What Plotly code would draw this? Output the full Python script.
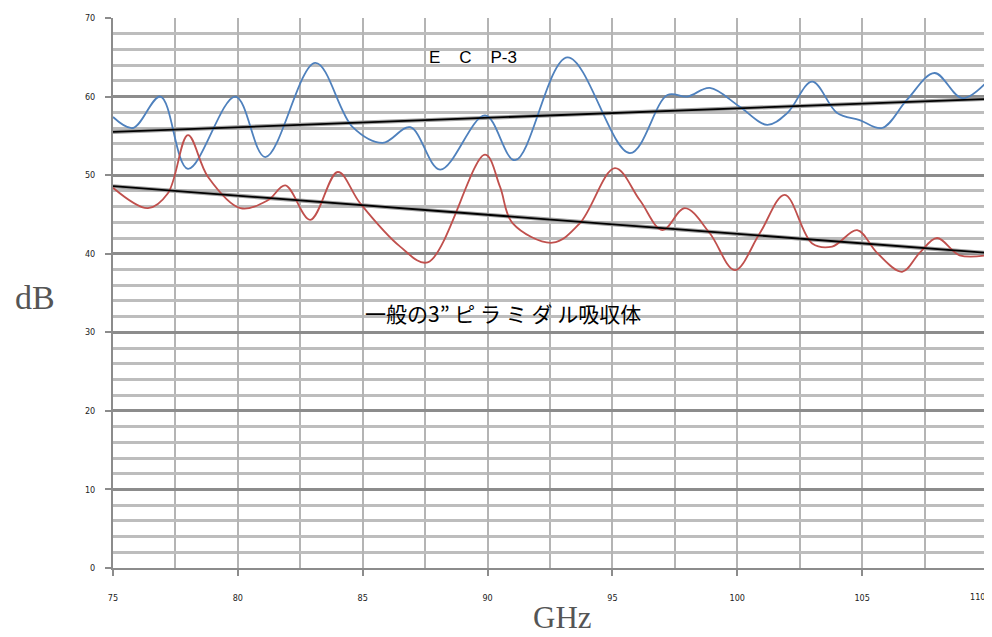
import plotly.graph_objects as go

# ECP-3 (blue) measured curve
ecp_freq = [75.0, 75.8, 76.9, 78.0, 79.9, 81.1, 83.1, 84.6, 85.8, 86.9, 88.1, 89.9, 91.1,
            93.2, 95.7, 97.2, 98.0, 98.9, 100.1, 101.2, 102.0, 103.0, 104.0, 104.9,
            105.8, 106.8, 107.9, 109.0, 110.0]
ecp_db = [57.4, 56.0, 60.0, 50.8, 60.0, 52.3, 64.3, 56.1, 54.1, 56.1, 50.7, 57.6, 51.9,
          65.0, 52.8, 60.2, 60.0, 61.1, 58.7, 56.4, 57.9, 61.9, 57.9, 57.0,
          56.0, 59.6, 63.0, 59.8, 61.9]

# Ordinary 3" pyramidal absorber (red) measured curve
pyr_freq = [75.0, 76.4, 77.2, 78.0, 78.8, 80.1, 81.2, 81.9, 82.9, 84.0, 84.9, 86.5, 87.6,
            89.9, 90.5, 91.0, 92.6, 93.7, 95.1, 96.1, 97.0, 97.9, 98.9, 99.9, 100.9,
            101.9, 103.0, 103.8, 104.8, 105.6, 106.6, 107.3, 108.0, 108.9, 110.0]
pyr_db = [48.4, 45.8, 47.7, 55.1, 49.8, 45.8, 46.8, 48.7, 44.3, 50.4, 46.4, 40.9, 38.9,
          52.6, 48.5, 43.9, 41.4, 43.9, 50.9, 46.8, 43.0, 45.8, 42.6, 37.9, 42.6,
          47.5, 41.3, 40.9, 43.0, 40.1, 37.7, 40.1, 42.0, 39.8, 39.8]

# Linear trend lines (end points)
trend_freq = [75.0, 110.0]
ecp_trend = [55.5, 59.7]
pyr_trend = [48.6, 40.1]

x_ticks = [75, 80, 85, 90, 95, 100, 105, 110]
y_ticks = [0, 10, 20, 30, 40, 50, 60, 70]

tick_font = dict(family="DejaVu Sans Condensed, DejaVu Sans", size=9, color="#222")

fig = go.Figure()

for tr in (ecp_trend, pyr_trend):
    fig.add_trace(go.Scatter(x=trend_freq, y=tr, mode="lines",
                             line=dict(color="#a0a0a0", width=4), hoverinfo="skip"))

fig.add_trace(go.Scatter(x=ecp_freq, y=ecp_db, mode="lines", name="ECP-3",
                         line=dict(color="#4f81bd", width=1.8, shape="spline", smoothing=1.0)))
fig.add_trace(go.Scatter(x=pyr_freq, y=pyr_db, mode="lines", name="pyramidal",
                         line=dict(color="#c0504d", width=1.8, shape="spline", smoothing=1.0)))

for tr in (ecp_trend, pyr_trend):
    fig.add_trace(go.Scatter(x=trend_freq, y=tr, mode="lines",
                             line=dict(color="#000000", width=1.8), hoverinfo="skip"))

fig.add_annotation(x=89.4, y=65.0, text="E    C    P-3", showarrow=False,
                   font=dict(family="Liberation Sans, Arial", size=17, color="#000000"))
fig.add_annotation(x=90.6, y=32.5, text="一般の3” ピ ラ ミ ダ ル吸収体", showarrow=False,
                   font=dict(family="Noto Sans CJK JP", size=21, color="#000000"))

# last x tick label, right-aligned so it stays inside the page
fig.add_annotation(x=x_ticks[-1], xref="x", yref="paper", y=-0.052, text=str(x_ticks[-1]),
                   showarrow=False, xanchor="right", yanchor="middle", font=tick_font)

# axis titles as horizontal text
fig.add_annotation(xref="paper", yref="paper", x=-0.089, y=0.491, text="dB", showarrow=False,
                   xanchor="center", yanchor="middle",
                   font=dict(family="Liberation Serif, DejaVu Serif", size=34, color="#555"))
fig.add_annotation(xref="paper", yref="paper", x=0.514, y=-0.090, text="GHz", showarrow=False,
                   xanchor="center", yanchor="middle",
                   font=dict(family="Liberation Serif, DejaVu Serif", size=31, color="#555"))

# the page adds an 8px body margin, so the figure is sized to compensate
fig.update_layout(
    width=984, height=629,
    margin=dict(l=105, r=5, t=10, b=69),
    paper_bgcolor="white", plot_bgcolor="white",
    showlegend=False,
    xaxis=dict(
        range=[75, 110], tickvals=x_ticks,
        ticktext=[str(v) for v in x_ticks[:-1]] + [""],
        automargin=False,
        showgrid=True, gridcolor="#b4b4b4", gridwidth=2,
        minor=dict(dtick=2.5, tick0=75, showgrid=True, gridcolor="#b4b4b4", gridwidth=2),
        showline=True, linecolor="#8c8c8c", linewidth=2,
        ticks="outside", ticklen=6, tickcolor="#8c8c8c", tickwidth=2,
        ticklabelstandoff=14,
        tickfont=tick_font,
        zeroline=False,
    ),
    yaxis=dict(
        range=[0, 70], tickvals=y_ticks, ticktext=[str(v) for v in y_ticks],
        automargin=False,
        showgrid=True, gridcolor="#8c8c8c", gridwidth=2.5,
        minor=dict(dtick=2, tick0=0, showgrid=True, gridcolor="#bdbdbd", gridwidth=2.5),
        showline=True, linecolor="#8c8c8c", linewidth=2,
        ticks="outside", ticklen=6, tickcolor="#8c8c8c", tickwidth=2,
        ticklabelstandoff=8,
        tickfont=tick_font,
        zeroline=False,
    ),
)

fig.write_html("out.html")
